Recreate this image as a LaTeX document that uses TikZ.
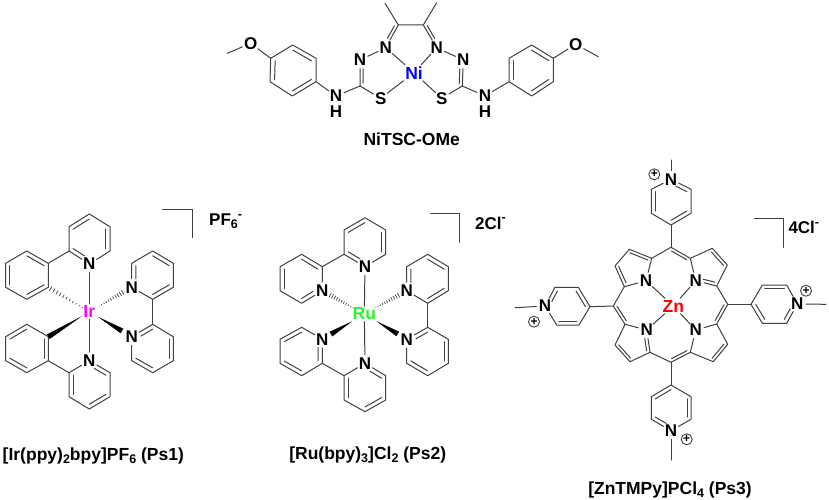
\documentclass[tikz,border=0pt]{standalone}
\usepackage{fontspec}
\setmainfont{Liberation Sans}
\usetikzlibrary{calc}
\definecolor{bondcol}{gray}{0.25}
\definecolor{rugreen}{RGB}{40,245,40}
\definecolor{irpink}{RGB}{255,0,255}
\definecolor{niblue}{RGB}{0,0,255}
\definecolor{znred}{RGB}{255,0,0}

\newcommand{\lowsc}[1]{\raisebox{-0.18em}{\fontsize{12.5}{12.5}\selectfont #1}}
\newcommand{\upsc}[1]{\raisebox{0.42em}{\fontsize{12.5}{12.5}\selectfont #1}}
\newcommand{\solidwedge}[4]{
    \coordinate (wa) at ($(#1)!#3!(#2)$);
    \coordinate (wb) at ($(#1)!#4!(#2)$);
    \fill[black] (wa) -- ($(wb)!2.7pt!90:(#1)$) -- ($(wb)!2.7pt!-90:(#1)$) -- cycle;
}
\newcommand{\hashwedge}[4]{
    \coordinate (wa) at ($(#1)!#3!(#2)$);
    \coordinate (wb) at ($(#1)!#4!(#2)$);
    \foreach \k in {0,...,10} {
        \pgfmathsetmacro{\hw}{0.3+\k*0.22}
        \draw[bondcol,line width=0.7pt] ($($(wa)!\k/10!(wb)$)!\hw pt!90:(#1)$) -- ($($(wa)!\k/10!(wb)$)!\hw pt!-90:(#1)$);
    }
}

\begin{document}
\begin{tikzpicture}[x=1pt,y=-1pt]
    \tikzstyle{bond}=[draw=bondcol,line width=1pt,line cap=round,line join=round]
    \tikzstyle{atom}=[circle,inner sep=0pt,minimum size=15pt,font=\fontsize{17}{17}\selectfont\bfseries]
    \tikzstyle{metal}=[rectangle,inner sep=1.5pt,font=\fontsize{17.5}{17.5}\selectfont\bfseries]
    \tikzstyle{title}=[inner sep=0pt,font=\fontsize{17.5}{17.5}\selectfont\bfseries]
    \tikzstyle{ion}=[anchor=west,inner sep=0pt,font=\fontsize{17}{17}\selectfont\bfseries]
    \tikzstyle{charge}=[circle,draw=bondcol,line width=0.9pt,inner sep=0pt,minimum size=11pt,font=\fontsize{12}{12}\selectfont\bfseries]
    \useasboundingbox (0,0) rectangle (829,500);

    \foreach \n/\x/\y in {Ca/398.3/25,Cb/423.3/25,Mea/385/3.3,Meb/436.7/2.7,Cc/360/86,Cd/462.3/86,
        Ta1/316/58.3,Ta2/292.7/45,Ta3/270.7/58.3,Ta4/270/81.7,Ta5/292.3/96,Ta6/316/81.7,Tac/293/70.5,
        Tb1/509/58.3,Tb2/531.7/45,Tb3/553.3/58.3,Tb4/553.3/81.7,Tb5/531.7/96,Tb6/509/81.7,Tbc/531/70.5,
        Mec/227.3/53.3,Med/598.3/56.7,Fa/379/28.7,Fb/443/28.7,Fc/375/73,Fd/447/73}
        \coordinate (\n) at (\x,\y);
    \node[metal,niblue] (Ni) at (414,72.7) {Ni};
    \foreach \n/\t/\x/\y in {Na/N/385.7/47.7,Nb/N/436.7/47.7,Nc/N/360/60,Nd/N/463.3/60,Sa/S/380.7/98.3,Sb/S/441.7/98.3,
        Ne/N/336/96,He/H/336/111.7,Nf/N/485/96,Hf/H/485/111.7,Oa/O/250.7/43.3,Ob/O/575.7/44.3}
        \node[atom] (\n) at (\x,\y) {\t};
    \draw[bond] (Mea) -- (Ca) -- (Cb) -- (Meb);
    \draw[bond] (Ca) -- (Na) -- (Nc) -- (Cc) -- (Sa) -- (Ni);
    \draw[bond] (Cb) -- (Nb) -- (Nd) -- (Cd) -- (Sb) -- (Ni);
    \draw[bond] (Na) -- (Ni) -- (Nb);
    \draw[bond] (Ta1) -- (Ta2) -- (Ta3) -- (Ta4) -- (Ta5) -- (Ta6) -- cycle;
    \draw[bond] (Tb1) -- (Tb2) -- (Tb3) -- (Tb4) -- (Tb5) -- (Tb6) -- cycle;
    \draw[bond] (Ta6) -- (Ne) -- (Cc);
    \draw[bond] (Tb6) -- (Nf) -- (Cd);
    \draw[bond] (Ta3) -- (Oa) -- (Mec);
    \draw[bond] (Tb3) -- (Ob) -- (Med);
    \node[title] (labelNi) at (411.7,139.5) {NiTSC-OMe};

    \foreach \n/\x/\y in {Ia2/69/251,Ia3/69/226.7,Ia4/89.3/214,Ia5/110/226.7,Ia6/110/251,Iac/89.5/239,
        Ib1/48.3/263.3,Ib2/48.3/287.3,Ib3/26.7/299.3,Ib4/5.7/287.3,Ib5/5.7/263.3,Ib6/26.7/251,Ibc/27/275,
        Ic1/48.3/336.7,Ic2/48.3/360.7,Ic3/26.7/372.7,Ic4/5.7/360.7,Ic5/5.7/336.7,Ic6/26.7/324.3,Icc/27/348.5,
        Id2/69/372.7,Id3/69/396.7,Id4/89.3/409,Id5/110/396.7,Id6/110/372.7,Idc/89.5/385,
        Ie2/131.7/263.3,Ie3/152.7/251,Ie4/173.3/263.3,Ie5/173.3/287.3,Ie6/152.7/299.3,Iec/152.5/275,
        If1/152.7/324.3,If2/173.3/336.7,If3/173.3/360.7,If4/152.7/372.7,If5/131.7/360.7,Ifc/152.5/348.5,
        Iba/162.7/209,Ibb/192.3/209,Ibd/192.3/237.7}
        \coordinate (\n) at (\x,\y);
    \node[metal,irpink] (Ir) at (89.3,311.7) {Ir};
    \foreach \n/\x/\y in {IrNa/89.3/264,IrNb/89.3/360.7,IrNc/131.7/287.3,IrNd/131.7/336.7}
        \node[atom] (\n) at (\x,\y) {N};
    \draw[bond] (IrNa) -- (Ia2) -- (Ia3) -- (Ia4) -- (Ia5) -- (Ia6) -- (IrNa);
    \draw[bond] (Ib1) -- (Ib2) -- (Ib3) -- (Ib4) -- (Ib5) -- (Ib6) -- cycle;
    \draw[bond] (Ic1) -- (Ic2) -- (Ic3) -- (Ic4) -- (Ic5) -- (Ic6) -- cycle;
    \draw[bond] (IrNb) -- (Id2) -- (Id3) -- (Id4) -- (Id5) -- (Id6) -- (IrNb);
    \draw[bond] (IrNc) -- (Ie2) -- (Ie3) -- (Ie4) -- (Ie5) -- (Ie6) -- (IrNc);
    \draw[bond] (IrNd) -- (If1) -- (If2) -- (If3) -- (If4) -- (If5) -- (IrNd);
    \draw[bond] (Ia2) -- (Ib1);
    \draw[bond] (Id2) -- (Ic2);
    \draw[bond] (Ie6) -- (If1);
    \draw[bond] (IrNa) -- (Ir) -- (IrNb);
    \hashwedge{Ir}{Ib2}{8pt}{45pt}
    \hashwedge{Ir}{IrNc}{11.5pt}{38.5pt}
    \solidwedge{Ir}{Ic1}{8.5pt}{48pt}
    \solidwedge{Ir}{IrNd}{10pt}{38pt}
    \draw[bond] (Iba) -- (Ibb) -- (Ibd);
    \node[ion] (ionIr) at (209,221.5) {PF\lowsc{6}\upsc{-}};
    \node[title] (labelIr) at (93.3,455.5) {[Ir(ppy)\lowsc{2}bpy]PF\lowsc{6} (Ps1)};

    \foreach \n/\x/\y in {Ua2/344/254.3,Ua3/344/230,Ua4/365/217.7,Ua5/385.7/230,Ua6/385.7/254.3,Uac/365/242,
        Ub2/322.3/266.7,Ub3/301.7/254.3,Ub4/280/266.7,Ub5/280/290.7,Ub6/301.7/303.3,Ubc/301/279,
        Uc2/406.7/266.7,Uc3/427.7/254.3,Uc4/448.3/266.7,Uc5/448.3/290.7,Uc6/427.7/303.3,Ucc/427.5/279,
        Ud1/427.7/327.3,Ud2/448.3/339.3,Ud3/448.3/363.3,Ud4/427.7/375.7,Ud5/406.7/363.3,Udc/427.5/351.5,
        Ue2/322.3/363.3,Ue3/301.7/375.7,Ue4/280/363.3,Ue5/280/339.3,Ue6/301.7/327.3,Uec/301/351.5,
        Uf2/344/375.7,Uf3/344/400,Uf4/365/411.7,Uf5/385.7/400,Uf6/385.7/375.7,Ufc/365/388,
        Uba/430.7/213.3,Ubb/459.7/213.3,Ubd/459.7/242.3}
        \coordinate (\n) at (\x,\y);
    \node[metal,rugreen] (Ru) at (364.3,314) {Ru};
    \foreach \n/\x/\y in {RuNa/365/266.7,RuNb/322.3/290.7,RuNc/406.7/290.7,RuNd/406.7/339.3,RuNe/322.3/339.3,RuNf/365/363.3}
        \node[atom] (\n) at (\x,\y) {N};
    \draw[bond] (RuNa) -- (Ua2) -- (Ua3) -- (Ua4) -- (Ua5) -- (Ua6) -- (RuNa);
    \draw[bond] (RuNb) -- (Ub2) -- (Ub3) -- (Ub4) -- (Ub5) -- (Ub6) -- (RuNb);
    \draw[bond] (RuNc) -- (Uc2) -- (Uc3) -- (Uc4) -- (Uc5) -- (Uc6) -- (RuNc);
    \draw[bond] (RuNd) -- (Ud1) -- (Ud2) -- (Ud3) -- (Ud4) -- (Ud5) -- (RuNd);
    \draw[bond] (RuNe) -- (Ue2) -- (Ue3) -- (Ue4) -- (Ue5) -- (Ue6) -- (RuNe);
    \draw[bond] (RuNf) -- (Uf2) -- (Uf3) -- (Uf4) -- (Uf5) -- (Uf6) -- (RuNf);
    \draw[bond] (Ua2) -- (Ub2);
    \draw[bond] (Uc6) -- (Ud1);
    \draw[bond] (Ue2) -- (Uf2);
    \draw[bond] (RuNa) -- (Ru) -- (RuNf);
    \hashwedge{Ru}{RuNb}{13pt}{39pt}
    \hashwedge{Ru}{RuNc}{13pt}{39pt}
    \solidwedge{Ru}{RuNd}{14pt}{39pt}
    \solidwedge{Ru}{RuNe}{14pt}{39pt}
    \draw[bond] (Uba) -- (Ubb) -- (Ubd);
    \node[ion] (ionRu) at (475,223) {2Cl\upsc{-}};
    \node[title] (labelRu) at (367.7,455) {[Ru(bpy)\lowsc{3}]Cl\lowsc{2} (Ps2)};

    \foreach \n/\x/\y in {Za1/651.7/258.3,Za2/629.3/249.3,Za3/615/266,Za4/624.3/286.7,Zac/633/267,
        Zb1/690.3/258.3,Zb2/712.3/248.3,Zb3/727.3/265,Zb4/716.7/286,Zbc/708/267,
        Zc1/650/352.3,Zc2/630/361.7,Zc3/615/345,Zc4/625/324.3,Zcc/633/344,
        Zd1/690.3/352.3,Zd2/713.3/361.7,Zd3/727.7/344.3,Zd4/716.7/324,Zdc/708/344,
        Zt/671/247.3,Zr/727.7/304.3,Zl/613.3/306,Zu/671/362.3,
        Zft/673.3/265.8,Zfr/709/306.7,Zfl/631.8/307,Zfu/673.8/344,
        Pa1/671/225,Pa2/691/213.3,Pa3/691/189.3,Pa5/651.3/189.3,Pa6/651.3/213.3,Pac/671/201.5,Pa7/671/160,
        Pb1/671/385,Pb2/691/396.7,Pb3/691/419.3,Pb5/651.3/419.3,Pb6/651.3/396.7,Pbc/671/408,Pb7/671/460,
        Pc1/751/304.3,Pc2/762.3/285,Pc3/786.7/285,Pc5/786.7/323.3,Pc6/762.3/323.3,Pcc/774.5/304,Pc7/826/304.3,
        Pd1/590/306.7,Pd2/578.3/287.3,Pd3/555/287.3,Pd5/556.7/325,Pd6/579/325,Pdc/567/306,Pd7/515/307.7,
        Zba/754.3/218.3,Zbb/783.7/218.3,Zbd/783.7/247.3}
        \coordinate (\n) at (\x,\y);
    \node[metal,znred] (Zn) at (673.3,306) {Zn};
    \foreach \n/\x/\y in {ZnNa/646/280.7,ZnNb/695.7/280.7,ZnNc/646.7/330,ZnNd/695.7/330,
        PyNa/671/179.3,PyNb/671/430.7,PyNc/797.3/304,PyNd/545/306}
        \node[atom] (\n) at (\x,\y) {N};
    \foreach \n/\x/\y in {chgA/654.3/174.3,chgB/686.7/439.3,chgC/806/290.7,chgD/534/321.7}
        \node[charge] (\n) at (\x,\y) {+};
    \draw[bond] (ZnNa) -- (Za1) -- (Za2) -- (Za3) -- (Za4) -- (ZnNa);
    \draw[bond] (ZnNb) -- (Zb1) -- (Zb2) -- (Zb3) -- (Zb4) -- (ZnNb);
    \draw[bond] (ZnNc) -- (Zc1) -- (Zc2) -- (Zc3) -- (Zc4) -- (ZnNc);
    \draw[bond] (ZnNd) -- (Zd1) -- (Zd2) -- (Zd3) -- (Zd4) -- (ZnNd);
    \draw[bond] (Za1) -- (Zt) -- (Zb1);
    \draw[bond] (Zb4) -- (Zr) -- (Zd4);
    \draw[bond] (Za4) -- (Zl) -- (Zc4);
    \draw[bond] (Zc1) -- (Zu) -- (Zd1);
    \draw[bond] (ZnNa) -- (Zn) -- (ZnNd);
    \draw[bond] (ZnNb) -- (Zn) -- (ZnNc);
    \draw[bond] (Pa1) -- (Pa2) -- (Pa3) -- (PyNa) -- (Pa5) -- (Pa6) -- (Pa1);
    \draw[bond] (Pb1) -- (Pb2) -- (Pb3) -- (PyNb) -- (Pb5) -- (Pb6) -- (Pb1);
    \draw[bond] (Pc1) -- (Pc2) -- (Pc3) -- (PyNc) -- (Pc5) -- (Pc6) -- (Pc1);
    \draw[bond] (Pd1) -- (Pd2) -- (Pd3) -- (PyNd) -- (Pd5) -- (Pd6) -- (Pd1);
    \draw[bond] (Zt) -- (Pa1);
    \draw[bond] (Zu) -- (Pb1);
    \draw[bond] (Zr) -- (Pc1);
    \draw[bond] (Zl) -- (Pd1);
    \draw[bond] (PyNa) -- (Pa7);
    \draw[bond] (PyNb) -- (Pb7);
    \draw[bond] (PyNc) -- (Pc7);
    \draw[bond] (PyNd) -- (Pd7);
    \draw[bond] (Zba) -- (Zbb) -- (Zbd);
    \node[ion] (ionZn) at (788.3,227.7) {4Cl\upsc{-}};
    \node[title] (labelZn) at (670,489.5) {[ZnTMPy]PCl\lowsc{4} (Ps3)};

    \foreach \a/\b/\c in {Ta1/Ta2/Tac,Ta3/Ta4/Tac,Ta5/Ta6/Tac,Tb6/Tb1/Tbc,Tb2/Tb3/Tbc,Tb4/Tb5/Tbc,
        Ia3/Ia4/Iac,Ia5/Ia6/Iac,Ib6/Ib1/Ibc,Ib4/Ib5/Ibc,Ib2/Ib3/Ibc,Ic5/Ic6/Icc,Ic3/Ic4/Icc,Ic1/Ic2/Icc,
        Id2/Id3/Idc,Id4/Id5/Idc,Ie3/Ie4/Iec,Ie5/Ie6/Iec,If2/If3/Ifc,If4/If5/Ifc,
        Ua3/Ua4/Uac,Ua5/Ua6/Uac,Ub4/Ub5/Ubc,Ub3/Ub2/Ubc,Uc3/Uc4/Ucc,Uc5/Uc6/Ucc,Ud2/Ud3/Udc,Ud4/Ud5/Udc,
        Ue6/Ue5/Uec,Ue4/Ue3/Uec,Uf2/Uf3/Ufc,Uf5/Uf4/Ufc,
        Za1/Za2/Zac,Za3/Za4/Zac,Zb2/Zb3/Zbc,Zc2/Zc3/Zcc,Zd2/Zd3/Zdc,Zt/Zb1/Zft,Zr/Zd4/Zfr,Zl/Zc4/Zfl,Zu/Zd1/Zfu,
        Pa2/Pa1/Pac,Pa5/Pa6/Pac,Pb6/Pb1/Pbc,Pb2/Pb3/Pbc,Pc2/Pc3/Pcc,Pc1/Pc6/Pcc,Pd1/Pd2/Pdc,Pd5/Pd6/Pdc}
        \draw[bond] ($(\c)!.8!(\a)$) -- ($(\c)!.8!(\b)$);
    \foreach \a/\b/\c in {Na/Ca/Fa,Nb/Cb/Fb,Nc/Cc/Fc,Nd/Cd/Fd,IrNa/Ia2/Iac,IrNb/Id6/Idc,IrNc/Ie2/Iec,IrNd/If1/Ifc,
        RuNa/Ua2/Uac,RuNb/Ub6/Ubc,RuNc/Uc2/Ucc,RuNd/Ud1/Udc,RuNe/Ue2/Uec,RuNf/Uf6/Ufc,
        ZnNb/Zb4/Zbc,ZnNc/Zc1/Zcc,PyNa/Pa3/Pac,PyNb/Pb5/Pbc,PyNc/Pc5/Pcc,PyNd/Pd3/Pdc}
        \draw[bond] ($($(\c)!.8!(\a)$)!.3!($(\c)!.8!(\b)$)$) -- ($(\c)!.8!(\b)$);
\end{tikzpicture}
\end{document}
